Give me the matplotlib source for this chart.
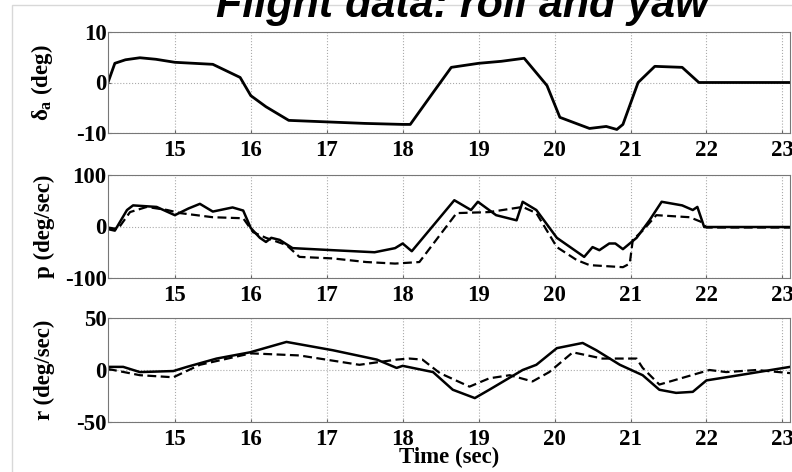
import numpy as np
import matplotlib.pyplot as plt
from matplotlib.patches import Rectangle

# aileron deflection (deg)
t_da = [14.12, 14.21, 14.35, 14.54, 14.75, 15.0, 15.5, 15.86, 16.0, 16.2, 16.5,
        17.0, 17.5, 18.0, 18.1, 18.4, 18.64, 19.0, 19.3, 19.6, 19.9, 20.07, 20.3,
        20.46, 20.68, 20.82, 20.9, 21.1, 21.32, 21.68, 21.9, 22.5, 23.1]
da = [0.0, 3.8, 4.5, 4.9, 4.6, 4.0, 3.6, 1.0, -2.6, -4.8, -7.5,
      -7.8, -8.1, -8.3, -8.3, -2.0, 3.0, 3.8, 4.2, 4.8, -0.6, -6.9, -8.2,
      -9.1, -8.7, -9.3, -8.3, 0.0, 3.2, 3.0, 0.0, 0.0, 0.0]

# roll rate p (deg/sec): flight data (solid) and model (dashed)
t_p1 = [14.12, 14.21, 14.37, 14.45, 14.76, 15.0, 15.18, 15.33, 15.5, 15.76, 15.9,
        16.0, 16.12, 16.2, 16.27, 16.38, 16.55, 17.08, 17.63, 17.9, 18.0, 18.12,
        18.68, 18.9, 18.99, 19.23, 19.5, 19.58, 19.76, 20.03, 20.39, 20.5, 20.59,
        20.72, 20.8, 20.9, 21.08, 21.25, 21.41, 21.68, 21.82, 21.88, 21.97, 22.5, 23.1]
p1 = [-5, -8, 32, 41, 38, 22, 35, 44, 29, 37, 31,
      -3, -22, -30, -22, -26, -42, -46, -50, -42, -33, -48,
      51, 32, 48, 22, 12, 48, 32, -22, -59, -40, -46,
      -33, -33, -44, -22, 12, 48, 41, 32, 38, -1, -1, -1]
t_p2 = [14.12, 14.25, 14.41, 14.63, 14.9, 15.07, 15.5, 15.9, 16.03, 16.2, 16.47,
        16.64, 17.08, 17.52, 17.9, 18.22, 18.71, 19.14, 19.58, 19.76, 20.03, 20.29,
        20.46, 20.9, 20.99, 21.03, 21.16, 21.34, 21.78, 21.93, 22.0, 22.5, 23.1]
p2 = [-2, -5, 28, 38, 32, 26, 18, 16, -11, -22, -36,
      -59, -62, -69, -72, -69, 26, 28, 38, 26, -40, -65,
      -75, -79, -72, -26, -8, 22, 18, 9, -2, -2, -2]

# yaw rate r (deg/sec): flight data (solid) and model (dashed)
t_r1 = [14.12, 14.32, 14.54, 14.98, 15.16, 15.55, 15.99, 16.47, 17.08, 17.66, 17.92,
        18.0, 18.4, 18.66, 18.95, 19.14, 19.58, 19.76, 20.03, 20.37, 20.55, 20.86,
        21.16, 21.38, 21.6, 21.82, 22.0, 22.43, 23.1]
r1 = [3, 3, -2, -1, 3, 11, 17, 27, 19, 10, 2,
      4, -2, -19, -27, -19, 0, 5, 21, 26, 19, 5,
      -5, -19, -22, -21, -10, -5, 3]
t_r2 = [14.12, 14.54, 14.98, 15.33, 16.0, 16.64, 17.43, 17.92, 18.09, 18.26, 18.49,
        18.88, 19.14, 19.41, 19.71, 19.93, 20.24, 20.63, 21.08, 21.16, 21.38, 22.04,
        22.26, 22.66, 23.1]
r2 = [1, -5, -7, 5, 16, 14, 5, 10, 11, 10, -3,
      -16, -8, -5, -11, -2, 17, 11, 11, 2, -14, 0,
      -2, 0, -3]

xticks = [15, 16, 17, 18, 19, 20, 21, 22, 23]

plt.rcParams['font.family'] = ['Liberation Serif', 'DejaVu Serif']
plt.rcParams['font.weight'] = 'bold'
plt.rcParams['axes.labelweight'] = 'bold'
plt.rcParams['axes.unicode_minus'] = False
plt.rcParams['mathtext.fontset'] = 'custom'
plt.rcParams['mathtext.rm'] = 'Liberation Serif:bold'
plt.rcParams['mathtext.it'] = 'Liberation Serif:bold'
plt.rcParams['mathtext.bf'] = 'Liberation Serif:bold'

fig = plt.figure(figsize=(7.92, 4.72), dpi=100)
fig.patches.append(Rectangle((12 / 792, -0.1), 1.2, 1 - 5 / 472 + 0.1,
                             transform=fig.transFigure, fill=False,
                             edgecolor='#d8d8d8', linewidth=1.0, zorder=0))

fig.text(0.584, 1 - 17 / 472, 'Flight data: roll and yaw', family='Liberation Sans',
         fontsize=31, fontweight='bold', style='italic', ha='center', va='baseline')

boxes = [[108 / 792, 1 - 133 / 472, 682 / 792, 101 / 472],
         [108 / 792, 1 - 278 / 472, 682 / 792, 103 / 472],
         [108 / 792, 1 - 422 / 472, 682 / 792, 104 / 472]]
ylims = [(-10, 10), (-100, 100), (-50, 50)]
ylabels = [r'$\delta_a$ (deg)', 'p (deg/sec)', 'r (deg/sec)']

axes = []
for box, yl, lab in zip(boxes, ylims, ylabels):
    ax = fig.add_axes(box)
    ax.set_xlim(14.12, 23.1)
    ax.set_ylim(*yl)
    ax.set_xticks(xticks)
    ax.set_yticks([yl[0], 0, yl[1]])
    ax.tick_params(direction='in', length=2, labelsize=16.5, color='#666666')
    ax.tick_params(axis='x', pad=5)
    ax.tick_params(axis='y', pad=1)
    ax.grid(True, linestyle=':', color='#aaaaaa', linewidth=0.8)
    for s in ax.spines.values():
        s.set_color('#777777')
    ax.set_ylabel(lab, fontsize=16.5, fontweight='bold')
    ax.yaxis.set_label_coords(-0.078, 0.5)
    axes.append(ax)

axes[0].plot(t_da, da, color='black', linewidth=2)
axes[1].plot(t_p1, p1, color='black', linewidth=1.8)
axes[1].plot(t_p2, p2, color='black', linewidth=1.6, linestyle='--', dashes=(4, 2))
axes[2].plot(t_r1, r1, color='black', linewidth=1.8)
axes[2].plot(t_r2, r2, color='black', linewidth=1.6, linestyle='--', dashes=(4, 2))
axes[2].set_xlabel('Time (sec)', fontsize=16.5, fontweight='bold', labelpad=-2)

fig.savefig('out.png', dpi=100)
